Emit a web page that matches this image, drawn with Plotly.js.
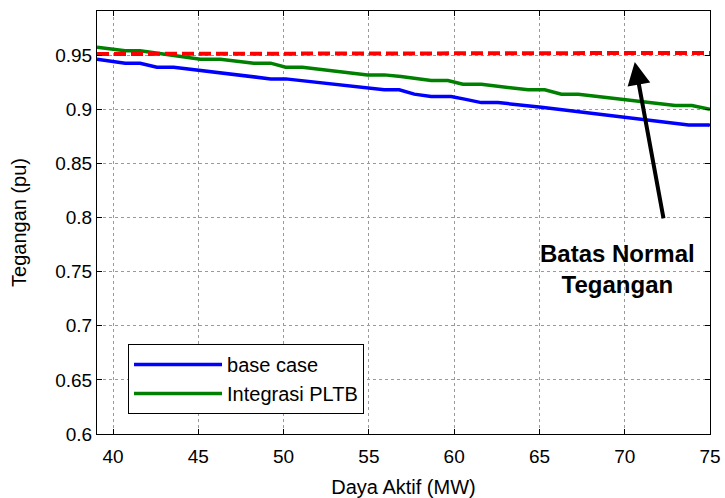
<!DOCTYPE html>
<html>
<head>
<meta charset="utf-8">
<script src="https://cdn.plot.ly/plotly-3.0.1.min.js"></script>
<style>html,body{margin:0;padding:0;background:#fff;}#chart{width:725px;height:498px;}</style>
</head>
<body>
<div id="chart"></div>
<script>
// Base case
var baseX = [39.06, 40.71, 41.59, 42.57, 43.55, 45.12, 49.24, 50.12, 55.12, 55.9, 56.78, 57.66, 58.65, 59.82, 60.61, 61.59, 62.57, 65.12, 73.75, 74.92, 75];
var baseY = [0.9462, 0.9425, 0.9425, 0.9388, 0.9388, 0.9357, 0.9280, 0.9280, 0.9188, 0.9179, 0.9179, 0.9139, 0.9117, 0.9117, 0.9093, 0.9061, 0.9061, 0.9019, 0.8855, 0.8855, 0.8846];
// Integrasi PLTB
var pltbX = [39.06, 40.71, 41.59, 45.12, 46.29, 48.25, 49.24, 50.12, 51.1, 54.92, 55.9, 56.88, 58.65, 59.63, 60.51, 61.59, 64.34, 65.31, 66.29, 67.28, 72.96, 73.94, 75];
var pltbY = [0.9573, 0.9539, 0.9539, 0.9462, 0.9462, 0.9425, 0.9425, 0.9388, 0.9388, 0.9317, 0.9317, 0.9302, 0.9265, 0.9265, 0.9231, 0.9231, 0.9179, 0.9179, 0.9139, 0.9139, 0.9034, 0.9034, 0.9000];
// Batas normal tegangan
var limitX = [39.06, 75];
var limitY = [0.951, 0.952];

var xTicks = [40, 45, 50, 55, 60, 65, 70, 75];
var yTicks = [0.6, 0.65, 0.7, 0.75, 0.8, 0.85, 0.9, 0.95];
var yTickText = ['0.6', '0.65', '0.7', '0.75', '0.8', '0.85', '0.9', '0.95'];

var font = 'Liberation Sans, Arial, sans-serif';

var traces = [
  {x: baseX, y: baseY, mode: 'lines', name: 'base case', line: {color: '#0000ff', width: 3.5}},
  {x: pltbX, y: pltbY, mode: 'lines', name: 'Integrasi PLTB', line: {color: '#008000', width: 3.5}},
  {x: limitX, y: limitY, mode: 'lines', name: 'Batas', showlegend: false, line: {color: '#ff0000', width: 4, dash: '12px,5px'}}
];

var axisCommon = {
  showline: true, linecolor: '#000', linewidth: 1, mirror: 'allticks',
  ticks: 'inside', ticklen: 5, tickcolor: '#000',
  showgrid: true, gridcolor: '#9a9a9a', griddash: 'dot', gridwidth: 1,
  zeroline: false, tickfont: {family: font, size: 19, color: '#000'}
};

var layout = {
  width: 725, height: 498,
  margin: {l: 97, r: 15, t: 11, b: 64},
  paper_bgcolor: '#fff', plot_bgcolor: '#fff',
  font: {family: font, color: '#000'},
  xaxis: Object.assign({}, axisCommon, {
    range: [39.06, 75], tickvals: xTicks, ticklabelstandoff: 5,
    title: {text: 'Daya Aktif (MW)', font: {family: font, size: 20, color: '#000'}, standoff: 14}
  }),
  yaxis: Object.assign({}, axisCommon, {
    range: [0.6, 0.9907], tickvals: yTicks, ticktext: yTickText,
    title: {text: 'Tegangan (pu)', font: {family: font, size: 20, color: '#000'}, standoff: 23}
  }),
  showlegend: true,
  legend: {
    x: 0.0506, y: 0.213, xanchor: 'left', yanchor: 'top',
    bgcolor: '#fff', bordercolor: '#000', borderwidth: 1,
    font: {family: font, size: 20, color: '#000'},
    tracegroupgap: 8, itemwidth: 88
  },
  annotations: [
    {x: 70.59, y: 0.9437, ax: 72.29, ay: 0.7977, xref: 'x', yref: 'y', axref: 'x', ayref: 'y',
     showarrow: true, arrowhead: 2, arrowsize: 1.15, arrowwidth: 4, arrowcolor: '#000', text: ''},
    {x: 69.6, y: 0.7525, xref: 'x', yref: 'y', showarrow: false, align: 'center',
     text: '<b>Batas Normal<br>Tegangan</b>', font: {family: font, size: 24, color: '#000'}}
  ]
};

Plotly.newPlot('chart', traces, layout, {displayModeBar: false});
</script>
</body>
</html>
